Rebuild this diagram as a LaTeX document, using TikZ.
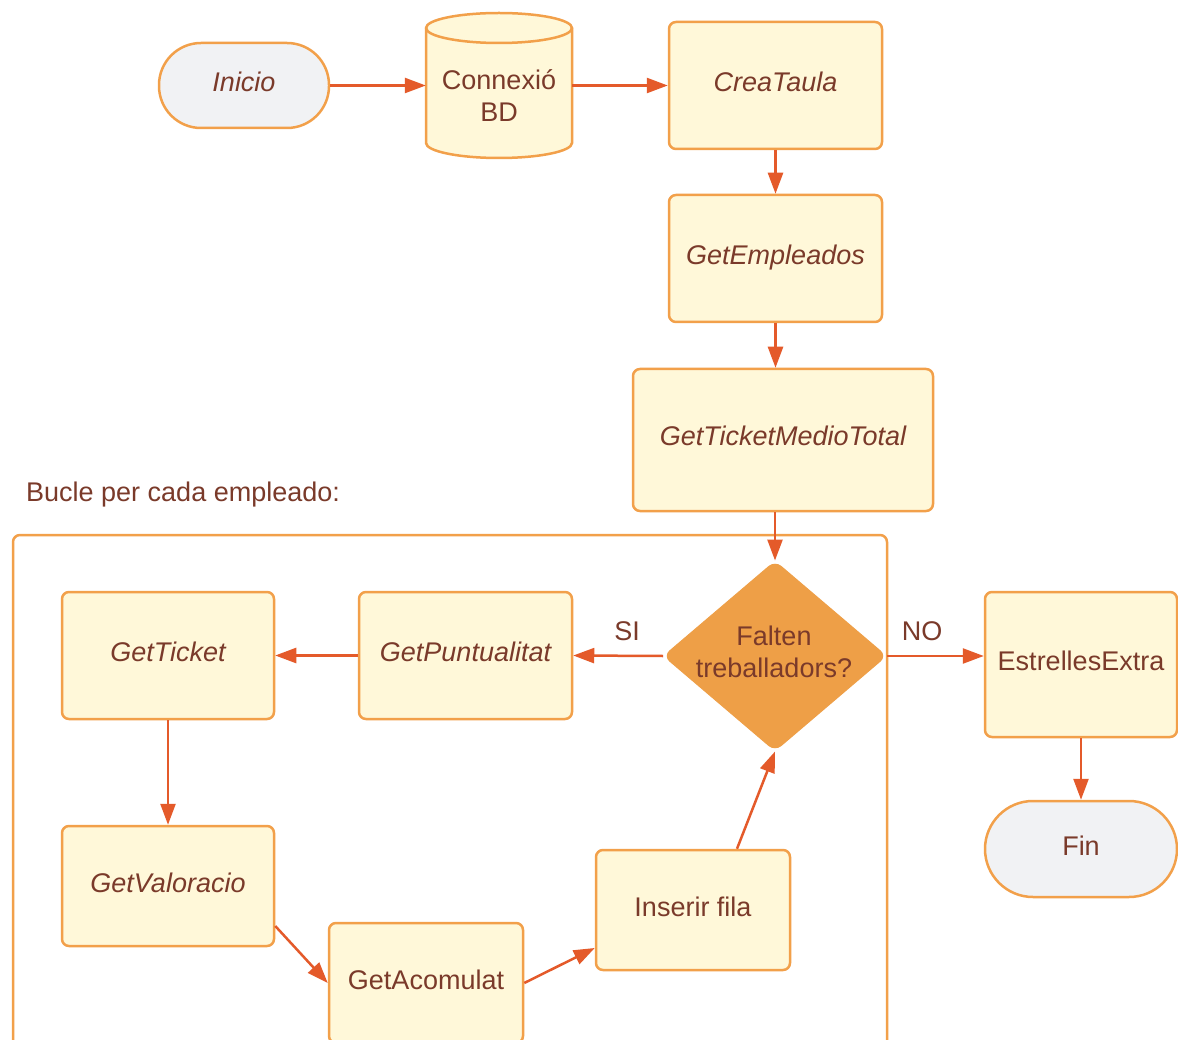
\documentclass[tikz,border=0pt]{standalone}
\usepackage{fontspec}
\setmainfont{Liberation Sans}
\usetikzlibrary{shapes.geometric,arrows.meta}
\definecolor{brd}{RGB}{242,160,74}
\definecolor{arr}{RGB}{228,90,42}
\definecolor{txt}{RGB}{122,58,42}
\definecolor{boxf}{RGB}{255,248,217}
\definecolor{termf}{RGB}{241,242,244}
\definecolor{diaf}{RGB}{238,159,71}
\begin{document}
\begin{tikzpicture}[x=1pt,y=-1pt,
  every node/.style={text=txt, font=\fontsize{27}{32}\selectfont, inner sep=0pt},
  box/.style={draw=brd, line width=2.5pt, fill=boxf, rounded corners=7pt, align=center, text height=20pt, text depth=8pt},
  term/.style={draw=brd, line width=2.5pt, fill=termf, align=center, text height=20pt, text depth=8pt},
  conn/.style={draw=arr, line width=2.5pt, -{Triangle[length=21pt,width=15pt]}},
  dec/.style={diamond, aspect=1.17, minimum width=223pt, minimum height=190pt, fill=diaf, draw=diaf, line width=1pt, rounded corners=8pt}
]
\useasboundingbox (0,0) rectangle (1178,1040);
\clip (0,0) rectangle (1178,1040);
\fill[white] (0,0) rectangle (1178,1040);

% loop frame
\draw[draw=brd, line width=2.5pt, rounded corners=7pt] (13,535) rectangle (887,1090);
\node[anchor=west] (bucle) at (26,495) {Bucle per cada empleado:};

% top row
\node[term, rounded corners=42pt, minimum width=170pt, minimum height=85pt] (inicio) at (244,85.5) {\itshape Inicio};
\node[minimum width=146pt, minimum height=145pt] (db) at (499,85.5) {};
\draw[draw=brd, line width=2.5pt, fill=boxf] (426,28) -- (426,143)
  arc[start angle=180, end angle=360, x radius=73pt, y radius=15pt] -- (572,28)
  arc[start angle=0, end angle=180, x radius=73pt, y radius=15pt] -- cycle;
\draw[draw=brd, line width=2.5pt] (426,28) arc[start angle=180, end angle=360, x radius=73pt, y radius=15pt];
\node[align=center] (dbtext) at (499,96) {Connexió\\BD};
\node[box, minimum width=213pt, minimum height=127pt] (crea) at (775.5,85.5) {\itshape CreaTaula};
\node[box, minimum width=213pt, minimum height=127pt] (emp) at (775.5,258.5) {\itshape GetEmpleados};
\node[box, minimum width=300pt, minimum height=142pt] (gtmt) at (783,440) {\itshape GetTicketMedioTotal};

% loop content
\node[dec] (dia) at (775,656) {};
\node[align=center] (diatext) at (774,652) {Falten\\treballadors?};
\node[box, minimum width=213pt, minimum height=127pt] (punt) at (465.5,655.5) {\itshape GetPuntualitat};
\node[box, minimum width=212pt, minimum height=127pt] (tick) at (168,655.5) {\itshape GetTicket};
\node[box, minimum width=212pt, minimum height=120pt] (val) at (168,886) {\itshape GetValoracio};
\node[box, minimum width=194pt, minimum height=120pt] (acom) at (426,983) {GetAcomulat};
\node[box, minimum width=194pt, minimum height=120pt] (ins) at (693,910) {Inserir fila};

% right side
\node[box, minimum width=192pt, minimum height=145pt] (estr) at (1081,664.5) {EstrellesExtra};
\node[term, rounded corners=48pt, minimum width=192pt, minimum height=96pt] (fin) at (1081,849) {Fin};

\node (si) at (627,631) {SI};
\node (no) at (922,631) {NO};

% connectors
\draw[conn] (inicio.east) -- (db.west);
\draw[conn] (db.east) -- (crea.west);
\draw[conn] (crea.south) -- (emp.north);
\draw[conn] (emp.south) -- (gtmt.north -| emp.south);
\draw[conn] (gtmt.south -| dia.north) -- (dia.north);
\draw[conn] (dia.west) -- (punt.east);
\draw[conn] (punt.west) -- (tick.east);
\draw[conn] (tick.south) -- (val.north);
\draw[conn] ([yshift=-40pt]val.east) -- (acom.west);
\draw[conn] (acom.east) -- ([yshift=-38pt]ins.west);
\draw[conn] ([xshift=44pt]ins.north) -- (dia.south);
\draw[conn] (dia.east) -- (dia.east -| estr.west);
\draw[conn] (estr.south) -- (fin.north);
\end{tikzpicture}
\end{document}
